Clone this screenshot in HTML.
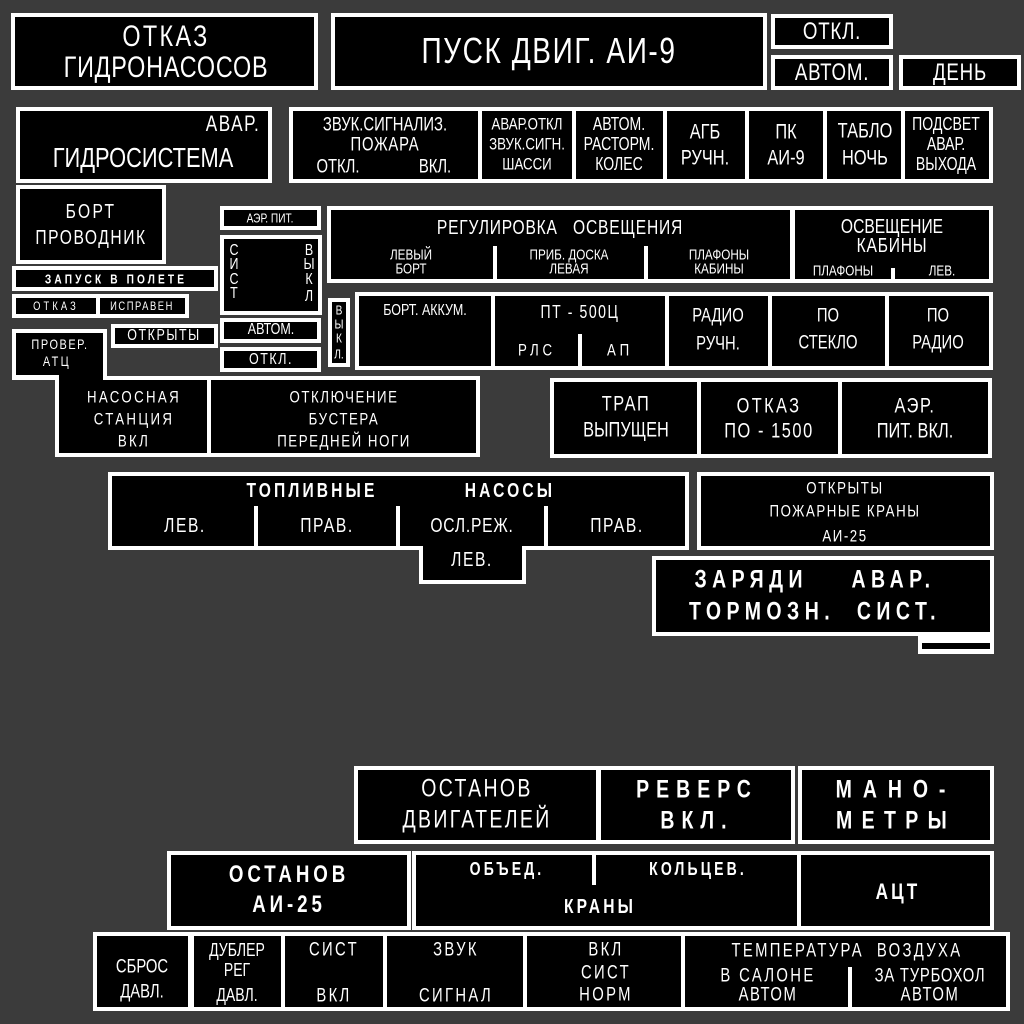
<!DOCTYPE html>
<html><head><meta charset="utf-8"><style>
html,body{margin:0;padding:0}
body{width:1024px;height:1024px;background:#3b3b3b;position:relative;overflow:hidden;font-family:"Liberation Sans","DejaVu Sans",sans-serif}
.w{position:absolute;background:#fff}
.b{position:absolute;background:#000}
.c{position:absolute;color:#fff;white-space:pre;transform:translate(-50%,-50%) scaleX(.78);line-height:1}
.B{font-weight:bold}
</style></head><body>
<!-- whites -->
<div class="w" style="left:11px;top:13px;width:307px;height:77px"></div>
<div class="w" style="left:331px;top:13px;width:436px;height:77px"></div>
<div class="w" style="left:771px;top:14px;width:122px;height:35px"></div>
<div class="w" style="left:771px;top:55px;width:122px;height:35px"></div>
<div class="w" style="left:899px;top:55px;width:122px;height:35px"></div>
<div class="w" style="left:16px;top:107px;width:256px;height:76px"></div>
<div class="w" style="left:289px;top:107px;width:704px;height:76px"></div>
<div class="w" style="left:16px;top:185px;width:150px;height:79px"></div>
<div class="w" style="left:12px;top:266px;width:206px;height:25px"></div>
<div class="w" style="left:12px;top:294px;width:177px;height:24px"></div>
<div class="w" style="left:111px;top:324px;width:107px;height:24px"></div>
<div class="w" style="left:12px;top:329px;width:95px;height:51px"></div>
<div class="w" style="left:55px;top:376px;width:425px;height:81px"></div>
<div class="w" style="left:220px;top:206px;width:101px;height:24px"></div>
<div class="w" style="left:220px;top:235px;width:102px;height:80px"></div>
<div class="w" style="left:220px;top:318px;width:101px;height:25px"></div>
<div class="w" style="left:220px;top:347px;width:101px;height:25px"></div>
<div class="w" style="left:328px;top:298px;width:22px;height:69px"></div>
<div class="w" style="left:327px;top:206px;width:666px;height:77px"></div>
<div class="w" style="left:355px;top:292px;width:638px;height:78px"></div>
<div class="w" style="left:550px;top:378px;width:442px;height:80px"></div>
<div class="w" style="left:108px;top:472px;width:581px;height:78px"></div>
<div class="w" style="left:419px;top:540px;width:107px;height:44px"></div>
<div class="w" style="left:697px;top:472px;width:297px;height:78px"></div>
<div class="w" style="left:652px;top:556px;width:342px;height:80px"></div>
<div class="w" style="left:918px;top:632px;width:76px;height:22px"></div>
<div class="w" style="left:354px;top:766px;width:441px;height:78px"></div>
<div class="w" style="left:798px;top:766px;width:196px;height:78px"></div>
<div class="w" style="left:167px;top:851px;width:244px;height:79px"></div>
<div class="w" style="left:412px;top:851px;width:582px;height:79px"></div>
<div class="w" style="left:93px;top:932px;width:917px;height:79px"></div>
<!-- blacks -->
<div class="b" style="left:15px;top:17px;width:299px;height:69px"></div>
<div class="b" style="left:335px;top:17px;width:428px;height:69px"></div>
<div class="b" style="left:775px;top:18px;width:114px;height:27px"></div>
<div class="b" style="left:775px;top:59px;width:114px;height:27px"></div>
<div class="b" style="left:903px;top:59px;width:114px;height:27px"></div>
<div class="b" style="left:20px;top:111px;width:248px;height:68px"></div>
<div class="b" style="left:293px;top:111px;width:185px;height:68px"></div>
<div class="b" style="left:482px;top:111px;width:90px;height:68px"></div>
<div class="b" style="left:576px;top:111px;width:87px;height:68px"></div>
<div class="b" style="left:667px;top:111px;width:78px;height:68px"></div>
<div class="b" style="left:749px;top:111px;width:74px;height:68px"></div>
<div class="b" style="left:827px;top:111px;width:74px;height:68px"></div>
<div class="b" style="left:905px;top:111px;width:84px;height:68px"></div>
<div class="b" style="left:20px;top:189px;width:142px;height:71px"></div>
<div class="b" style="left:16px;top:270px;width:198px;height:17px"></div>
<div class="b" style="left:16px;top:298px;width:80px;height:16px"></div>
<div class="b" style="left:100px;top:298px;width:85px;height:16px"></div>
<div class="b" style="left:115px;top:328px;width:99px;height:16px"></div>
<div class="b" style="left:16px;top:333px;width:87px;height:42px"></div>
<div class="b" style="left:59px;top:333px;width:44px;height:50px"></div>
<div class="b" style="left:59px;top:380px;width:148px;height:73px"></div>
<div class="b" style="left:211px;top:380px;width:265px;height:73px"></div>
<div class="b" style="left:224px;top:210px;width:93px;height:16px"></div>
<div class="b" style="left:224px;top:239px;width:94px;height:72px"></div>
<div class="b" style="left:224px;top:322px;width:93px;height:17px"></div>
<div class="b" style="left:224px;top:351px;width:93px;height:17px"></div>
<div class="b" style="left:332px;top:302px;width:14px;height:61px"></div>
<div class="b" style="left:331px;top:210px;width:459px;height:69px"></div>
<div class="b" style="left:795px;top:210px;width:194px;height:69px"></div>
<div class="w" style="left:493px;top:246px;width:4px;height:34px"></div>
<div class="w" style="left:644px;top:246px;width:4px;height:34px"></div>
<div class="w" style="left:891px;top:268px;width:4px;height:12px"></div>
<div class="b" style="left:359px;top:296px;width:132px;height:70px"></div>
<div class="b" style="left:495px;top:296px;width:170px;height:70px"></div>
<div class="b" style="left:669px;top:296px;width:99px;height:70px"></div>
<div class="b" style="left:772px;top:296px;width:113px;height:70px"></div>
<div class="b" style="left:889px;top:296px;width:100px;height:70px"></div>
<div class="w" style="left:578px;top:334px;width:4px;height:32px"></div>
<div class="b" style="left:554px;top:382px;width:143px;height:72px"></div>
<div class="b" style="left:701px;top:382px;width:137px;height:72px"></div>
<div class="b" style="left:842px;top:382px;width:146px;height:72px"></div>
<div class="b" style="left:112px;top:476px;width:573px;height:70px"></div>
<div class="b" style="left:423px;top:540px;width:99px;height:40px"></div>
<div class="w" style="left:254px;top:506px;width:4px;height:40px"></div>
<div class="w" style="left:396px;top:506px;width:4px;height:40px"></div>
<div class="w" style="left:544px;top:506px;width:4px;height:40px"></div>
<div class="b" style="left:701px;top:476px;width:289px;height:70px"></div>
<div class="b" style="left:656px;top:560px;width:334px;height:72px"></div>
<div class="b" style="left:922px;top:643px;width:68px;height:6px"></div>
<div class="b" style="left:358px;top:770px;width:238px;height:70px"></div>
<div class="b" style="left:601px;top:770px;width:190px;height:70px"></div>
<div class="b" style="left:802px;top:770px;width:188px;height:70px"></div>
<div class="b" style="left:171px;top:855px;width:236px;height:71px"></div>
<div class="b" style="left:416px;top:855px;width:381px;height:71px"></div>
<div class="b" style="left:801px;top:855px;width:189px;height:71px"></div>
<div class="w" style="left:592px;top:855px;width:4px;height:30px"></div>
<div class="b" style="left:97px;top:936px;width:91px;height:71px"></div>
<div class="b" style="left:194px;top:936px;width:87px;height:71px"></div>
<div class="b" style="left:285px;top:936px;width:98px;height:71px"></div>
<div class="b" style="left:387px;top:936px;width:136px;height:71px"></div>
<div class="b" style="left:527px;top:936px;width:154px;height:71px"></div>
<div class="b" style="left:685px;top:936px;width:321px;height:71px"></div>
<div class="w" style="left:848px;top:967px;width:4px;height:40px"></div>
<!-- text -->
<div class="c" style="left:166px;top:37px;font-size:30px;letter-spacing:3px">ОТКАЗ</div>
<div class="c" style="left:166px;top:68px;font-size:30px;letter-spacing:1px">ГИДРОНАСОСОВ</div>
<div class="c" style="left:549px;top:51px;font-size:36px;letter-spacing:2px">ПУСК ДВИГ. АИ-9</div>
<div class="c" style="left:832px;top:32px;font-size:24px;letter-spacing:1px">ОТКЛ.</div>
<div class="c" style="left:832px;top:73px;font-size:24px;letter-spacing:1px">АВТОМ.</div>
<div class="c" style="left:960px;top:73px;font-size:24px;letter-spacing:1px">ДЕНЬ</div>
<div class="c" style="left:233px;top:124px;font-size:22px;letter-spacing:2px">АВАР.</div>
<div class="c" style="left:143px;top:158px;font-size:28px">ГИДРОСИСТЕМА</div>
<div class="c" style="left:385px;top:125px;font-size:19px">ЗВУК.СИГНАЛИЗ.</div>
<div class="c" style="left:385px;top:145px;font-size:19px;letter-spacing:1px">ПОЖАРА</div>
<div class="c" style="left:338px;top:167px;font-size:19px">ОТКЛ.</div>
<div class="c" style="left:435px;top:167px;font-size:19px">ВКЛ.</div>
<div class="c" style="left:527px;top:124px;font-size:17px">АВАР.ОТКЛ</div>
<div class="c" style="left:527px;top:144px;font-size:17px">ЗВУК.СИГН.</div>
<div class="c" style="left:527px;top:164px;font-size:17px">ШАССИ</div>
<div class="c" style="left:619px;top:124px;font-size:18px">АВТОМ.</div>
<div class="c" style="left:619px;top:144px;font-size:18px">РАСТОРМ.</div>
<div class="c" style="left:619px;top:164px;font-size:18px">КОЛЕС</div>
<div class="c" style="left:705px;top:132px;font-size:21px">АГБ</div>
<div class="c" style="left:705px;top:158px;font-size:21px">РУЧН.</div>
<div class="c" style="left:786px;top:132px;font-size:21px">ПК</div>
<div class="c" style="left:786px;top:158px;font-size:21px">АИ-9</div>
<div class="c" style="left:865px;top:131px;font-size:21px">ТАБЛО</div>
<div class="c" style="left:865px;top:158px;font-size:21px">НОЧЬ</div>
<div class="c" style="left:946px;top:124px;font-size:18px">ПОДСВЕТ</div>
<div class="c" style="left:946px;top:144px;font-size:18px">АВАР.</div>
<div class="c" style="left:946px;top:164px;font-size:18px">ВЫХОДА</div>
<div class="c" style="left:91px;top:212px;font-size:20px;letter-spacing:3px">БОРТ</div>
<div class="c" style="left:91px;top:238px;font-size:20px;letter-spacing:2px">ПРОВОДНИК</div>
<div class="c B" style="left:116px;top:279px;font-size:13px;letter-spacing:4px">ЗАПУСК В ПОЛЕТЕ</div>
<div class="c" style="left:56px;top:306px;font-size:12px;letter-spacing:4px">ОТКАЗ</div>
<div class="c" style="left:142px;top:306px;font-size:12px;letter-spacing:2px">ИСПРАВЕН</div>
<div class="c" style="left:164px;top:336px;font-size:16px;letter-spacing:2px">ОТКРЫТЫ</div>
<div class="c" style="left:60px;top:344px;font-size:14px;letter-spacing:2px">ПРОВЕР.</div>
<div class="c" style="left:57px;top:361px;font-size:14px;letter-spacing:3px">АТЦ</div>
<div class="c" style="left:134px;top:397px;font-size:17px;letter-spacing:3px">НАСОСНАЯ</div>
<div class="c" style="left:134px;top:419px;font-size:17px;letter-spacing:3px">СТАНЦИЯ</div>
<div class="c" style="left:134px;top:441px;font-size:17px;letter-spacing:3px">ВКЛ</div>
<div class="c" style="left:344px;top:397px;font-size:17px;letter-spacing:2px">ОТКЛЮЧЕНИЕ</div>
<div class="c" style="left:344px;top:419px;font-size:17px;letter-spacing:2px">БУСТЕРА</div>
<div class="c" style="left:344px;top:441px;font-size:17px;letter-spacing:2px">ПЕРЕДНЕЙ НОГИ</div>
<div class="c" style="left:270px;top:218px;font-size:13px">АЭР. ПИТ.</div>
<div class="c" style="left:234px;top:251px;font-size:16px">С</div>
<div class="c" style="left:234px;top:265px;font-size:16px">И</div>
<div class="c" style="left:234px;top:280px;font-size:16px">С</div>
<div class="c" style="left:234px;top:294px;font-size:16px">Т</div>
<div class="c" style="left:309px;top:251px;font-size:16px">В</div>
<div class="c" style="left:309px;top:265px;font-size:16px">Ы</div>
<div class="c" style="left:309px;top:280px;font-size:16px">К</div>
<div class="c" style="left:309px;top:297px;font-size:16px">Л</div>
<div class="c" style="left:271px;top:330px;font-size:16px">АВТОМ.</div>
<div class="c" style="left:271px;top:360px;font-size:16px;letter-spacing:2px">ОТКЛ.</div>
<div class="c" style="left:339px;top:310px;font-size:13px">В</div>
<div class="c" style="left:339px;top:324px;font-size:13px">Ы</div>
<div class="c" style="left:339px;top:338px;font-size:13px">К</div>
<div class="c" style="left:339px;top:354px;font-size:13px">Л.</div>
<div class="c" style="left:560px;top:228px;font-size:20px;letter-spacing:1px">РЕГУЛИРОВКА   ОСВЕЩЕНИЯ</div>
<div class="c" style="left:411px;top:255px;font-size:15px">ЛЕВЫЙ</div>
<div class="c" style="left:411px;top:269px;font-size:15px">БОРТ</div>
<div class="c" style="left:569px;top:255px;font-size:15px">ПРИБ. ДОСКА</div>
<div class="c" style="left:569px;top:269px;font-size:15px">ЛЕВАЯ</div>
<div class="c" style="left:719px;top:255px;font-size:15px">ПЛАФОНЫ</div>
<div class="c" style="left:719px;top:269px;font-size:15px">КАБИНЫ</div>
<div class="c" style="left:892px;top:227px;font-size:20px">ОСВЕЩЕНИЕ</div>
<div class="c" style="left:892px;top:246px;font-size:20px;letter-spacing:1px">КАБИНЫ</div>
<div class="c" style="left:843px;top:271px;font-size:15px">ПЛАФОНЫ</div>
<div class="c" style="left:942px;top:271px;font-size:15px">ЛЕВ.</div>
<div class="c" style="left:425px;top:311px;font-size:16px">БОРТ. АККУМ.</div>
<div class="c" style="left:580px;top:312px;font-size:18px;letter-spacing:2px">ПТ - 500Ц</div>
<div class="c" style="left:537px;top:350px;font-size:17px;letter-spacing:5px">РЛС</div>
<div class="c" style="left:620px;top:350px;font-size:17px;letter-spacing:5px">АП</div>
<div class="c" style="left:718px;top:316px;font-size:19px">РАДИО</div>
<div class="c" style="left:718px;top:344px;font-size:19px">РУЧН.</div>
<div class="c" style="left:828px;top:316px;font-size:19px">ПО</div>
<div class="c" style="left:828px;top:343px;font-size:19px">СТЕКЛО</div>
<div class="c" style="left:938px;top:316px;font-size:19px">ПО</div>
<div class="c" style="left:938px;top:343px;font-size:19px">РАДИО</div>
<div class="c" style="left:626px;top:404px;font-size:21px;letter-spacing:2px">ТРАП</div>
<div class="c" style="left:626px;top:430px;font-size:21px">ВЫПУЩЕН</div>
<div class="c" style="left:769px;top:406px;font-size:21px;letter-spacing:3px">ОТКАЗ</div>
<div class="c" style="left:769px;top:431px;font-size:21px;letter-spacing:2px">ПО - 1500</div>
<div class="c" style="left:915px;top:406px;font-size:21px;letter-spacing:2px">АЭР.</div>
<div class="c" style="left:915px;top:431px;font-size:21px">ПИТ. ВКЛ.</div>
<div class="c B" style="left:312px;top:491px;font-size:20px;letter-spacing:4px">ТОПЛИВНЫЕ</div>
<div class="c B" style="left:510px;top:491px;font-size:20px;letter-spacing:4px">НАСОСЫ</div>
<div class="c" style="left:185px;top:526px;font-size:20px;letter-spacing:2px">ЛЕВ.</div>
<div class="c" style="left:327px;top:526px;font-size:20px;letter-spacing:2px">ПРАВ.</div>
<div class="c" style="left:472px;top:526px;font-size:20px;letter-spacing:1px">ОСЛ.РЕЖ.</div>
<div class="c" style="left:617px;top:526px;font-size:20px;letter-spacing:2px">ПРАВ.</div>
<div class="c" style="left:472px;top:560px;font-size:20px;letter-spacing:2px">ЛЕВ.</div>
<div class="c" style="left:845px;top:488px;font-size:17px;letter-spacing:2px">ОТКРЫТЫ</div>
<div class="c" style="left:845px;top:511px;font-size:17px;letter-spacing:2px">ПОЖАРНЫЕ КРАНЫ</div>
<div class="c" style="left:845px;top:536px;font-size:17px;letter-spacing:2px">АИ-25</div>
<div class="c B" style="left:815px;top:580px;font-size:25px;letter-spacing:7px">ЗАРЯДИ    АВАР.</div>
<div class="c B" style="left:815px;top:612px;font-size:25px;letter-spacing:7px">ТОРМОЗН.  СИСТ.</div>
<div class="c" style="left:477px;top:789px;font-size:25px;letter-spacing:3px">ОСТАНОВ</div>
<div class="c" style="left:477px;top:820px;font-size:25px;letter-spacing:3px">ДВИГАТЕЛЕЙ</div>
<div class="c B" style="left:697px;top:790px;font-size:25px;letter-spacing:9px">РЕВЕРС</div>
<div class="c B" style="left:697px;top:821px;font-size:25px;letter-spacing:9px">ВКЛ.</div>
<div class="c B" style="left:896px;top:790px;font-size:25px;letter-spacing:14px">МАНО-</div>
<div class="c B" style="left:896px;top:821px;font-size:25px;letter-spacing:12px">МЕТРЫ</div>
<div class="c B" style="left:289px;top:875px;font-size:24px;letter-spacing:5px">ОСТАНОВ</div>
<div class="c B" style="left:289px;top:905px;font-size:24px;letter-spacing:5px">АИ-25</div>
<div class="c B" style="left:507px;top:869px;font-size:18px;letter-spacing:4px">ОБЪЕД.</div>
<div class="c B" style="left:698px;top:869px;font-size:18px;letter-spacing:4px">КОЛЬЦЕВ.</div>
<div class="c B" style="left:600px;top:907px;font-size:20px;letter-spacing:4px">КРАНЫ</div>
<div class="c B" style="left:898px;top:892px;font-size:22px;letter-spacing:4px">АЦТ</div>
<div class="c" style="left:142px;top:967px;font-size:19px">СБРОС</div>
<div class="c" style="left:142px;top:992px;font-size:19px">ДАВЛ.</div>
<div class="c" style="left:237px;top:950px;font-size:18px">ДУБЛЕР</div>
<div class="c" style="left:237px;top:970px;font-size:18px">РЕГ</div>
<div class="c" style="left:237px;top:995px;font-size:18px">ДАВЛ.</div>
<div class="c" style="left:334px;top:950px;font-size:19px;letter-spacing:3px">СИСТ</div>
<div class="c" style="left:334px;top:996px;font-size:19px;letter-spacing:3px">ВКЛ</div>
<div class="c" style="left:456px;top:950px;font-size:19px;letter-spacing:3px">ЗВУК</div>
<div class="c" style="left:456px;top:996px;font-size:19px;letter-spacing:3px">СИГНАЛ</div>
<div class="c" style="left:606px;top:950px;font-size:19px;letter-spacing:3px">ВКЛ</div>
<div class="c" style="left:606px;top:973px;font-size:19px;letter-spacing:3px">СИСТ</div>
<div class="c" style="left:606px;top:995px;font-size:19px;letter-spacing:3px">НОРМ</div>
<div class="c" style="left:847px;top:951px;font-size:19px;letter-spacing:3px">ТЕМПЕРАТУРА  ВОЗДУХА</div>
<div class="c" style="left:768px;top:976px;font-size:19px;letter-spacing:3px">В САЛОНЕ</div>
<div class="c" style="left:768px;top:995px;font-size:19px;letter-spacing:2px">АВТОМ</div>
<div class="c" style="left:930px;top:976px;font-size:19px;letter-spacing:1px">ЗА ТУРБОХОЛ</div>
<div class="c" style="left:930px;top:995px;font-size:19px;letter-spacing:2px">АВТОМ</div>
</body></html>
